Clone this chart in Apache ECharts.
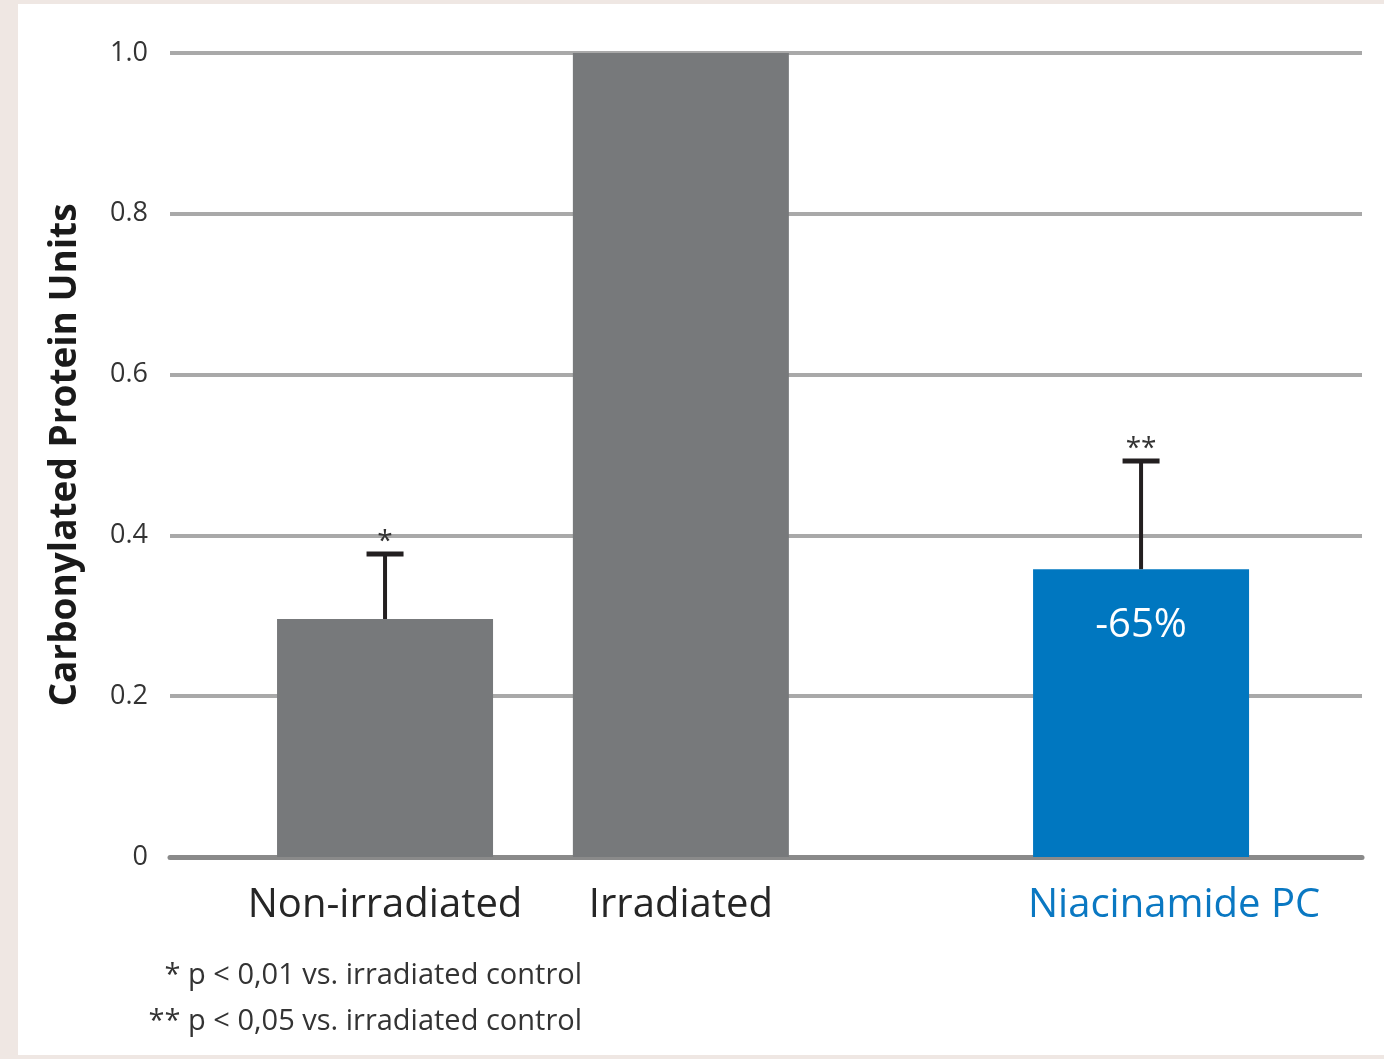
<!DOCTYPE html>
<html>
<head>
<meta charset="utf-8">
<script src="https://cdn.jsdelivr.net/npm/echarts@6/dist/echarts.min.js"></script>
<style>
  html, body { margin: 0; padding: 0; width: 1384px; height: 1059px; background: #efe7e3; overflow: hidden; }
  #chart { position: absolute; left: 18px; top: 4px; width: 1366px; height: 1051px; background: #ffffff; }
</style>
</head>
<body>
<div id="chart"></div>
<script>
// ---- data ----
const categories = ['Non-irradiated', 'Irradiated', 'Niacinamide PC'];
const values = [0.296, 1.0, 0.358];
const errorTops = [0.377, null, 0.4925];
const significance = ['*', '', '**'];
const barLabels = ['', '', '-65%'];
const yTickLabels = ['0', '0.2', '0.4', '0.6', '0.8', '1.0'];
const yTitle = 'Carbonylated Protein Units';
const footnotes = ['* p < 0,01 vs. irradiated control', '** p < 0,05 vs. irradiated control'];

// ---- layout (slot positions on the category axis) ----
const slotOf = [0, 9, 23];
const slotCount = 24;
const FONT = '"Open Sans", "Noto Sans", sans-serif';
const barColors = ['#77797b', '#77797b', '#0077c0'];
const labelColors = ['#262626', '#262626', '#0a78c2'];

const xCats = new Array(slotCount).fill('');
categories.forEach((c, i) => { xCats[slotOf[i]] = c; });
const barData = new Array(slotCount).fill('-');
categories.forEach((c, i) => {
  const item = { value: values[i], itemStyle: { color: barColors[i] } };
  if (barLabels[i]) {
    item.label = {
      show: true, position: 'insideTop', distance: 36, formatter: barLabels[i],
      color: '#ffffff', fontSize: 40, fontFamily: FONT, fontWeight: 500
    };
  }
  barData[slotOf[i]] = item;
});

const chart = echarts.init(document.getElementById('chart'), null, { renderer: 'canvas' });

const option = {
  animation: false,
  grid: [
    { left: 152, right: 22, top: 49, height: 804 },
    { left: 350.6, width: 788.9, top: 49, height: 804 }
  ],
  xAxis: [
    {
      type: 'category', gridIndex: 0, data: [''],
      axisLine: { show: true, lineStyle: { color: '#8a8a8a', width: 5 } },
      axisTick: { show: false }, axisLabel: { show: false }, splitLine: { show: false }
    },
    {
      type: 'category', gridIndex: 1, data: xCats,
      axisLine: { show: false }, axisTick: { show: false },
      axisLabel: {
        interval: 0, margin: 29, fontSize: 40, fontFamily: FONT,
        formatter: function (v) {
          const i = categories.indexOf(v);
          if (i < 0) return '';
          return '{c' + i + '|' + v + '}';
        },
        rich: {
          c0: { color: labelColors[0], fontSize: 40, fontFamily: FONT },
          c1: { color: labelColors[1], fontSize: 40, fontFamily: FONT },
          c2: { color: labelColors[2], fontSize: 40, fontFamily: FONT, padding: [0, 0, 0, 66] }
        }
      }
    }
  ],
  yAxis: [
    {
      type: 'value', gridIndex: 0, min: 0, max: 1, interval: 0.2,
      axisLine: { show: false }, axisTick: { show: false },
      axisLabel: {
        margin: 22, fontSize: 27, fontFamily: FONT, color: '#333333', padding: [4, 0, 0, 0],
        formatter: function (v) { return yTickLabels[Math.round(v / 0.2)]; }
      },
      splitLine: { show: true, lineStyle: { color: '#a9a9a9', width: 4 } },
      name: yTitle, nameLocation: 'middle', nameGap: 86, nameRotate: 90,
      nameTextStyle: { fontSize: 37, fontWeight: 'bold', fontFamily: FONT, color: '#1a1a1a' }
    },
    {
      type: 'value', gridIndex: 1, min: 0, max: 1, interval: 0.2, show: false,
      splitLine: { show: false }
    }
  ],
  series: [
    {
      type: 'bar', xAxisIndex: 1, yAxisIndex: 1, data: barData,
      barWidth: 216, z: 3, clip: false
    },
    {
      type: 'custom', xAxisIndex: 1, yAxisIndex: 1, z: 4, clip: false,
      data: categories.map((c, i) => [slotOf[i], errorTops[i] == null ? values[i] : errorTops[i]]),
      renderItem: function (params, api) {
        const i = params.dataIndex;
        if (errorTops[i] == null) return null;
        const base = api.coord([slotOf[i], values[i]]);
        const top = api.coord([slotOf[i], errorTops[i]]);
        return {
          type: 'group',
          children: [
            { type: 'line', shape: { x1: base[0], y1: base[1], x2: top[0], y2: top[1] },
              style: { stroke: '#231f20', lineWidth: 4 } },
            { type: 'line', shape: { x1: top[0] - 18.5, y1: top[1], x2: top[0] + 18.5, y2: top[1] },
              style: { stroke: '#231f20', lineWidth: 5 } },
            { type: 'text', x: top[0], y: top[1] - 12,
              style: { text: significance[i], fill: '#333333', fontSize: 28, fontFamily: FONT,
                       align: 'center', verticalAlign: 'middle' } }
          ]
        };
      }
    }
  ],
  graphic: footnotes.map((t, k) => ({
    type: 'text', right: 1366 - 564, top: 957 + k * 46,
    style: { text: t, fill: '#333333', fontSize: 29, fontFamily: FONT }
  }))
};
chart.setOption(option);
</script>
</body>
</html>
